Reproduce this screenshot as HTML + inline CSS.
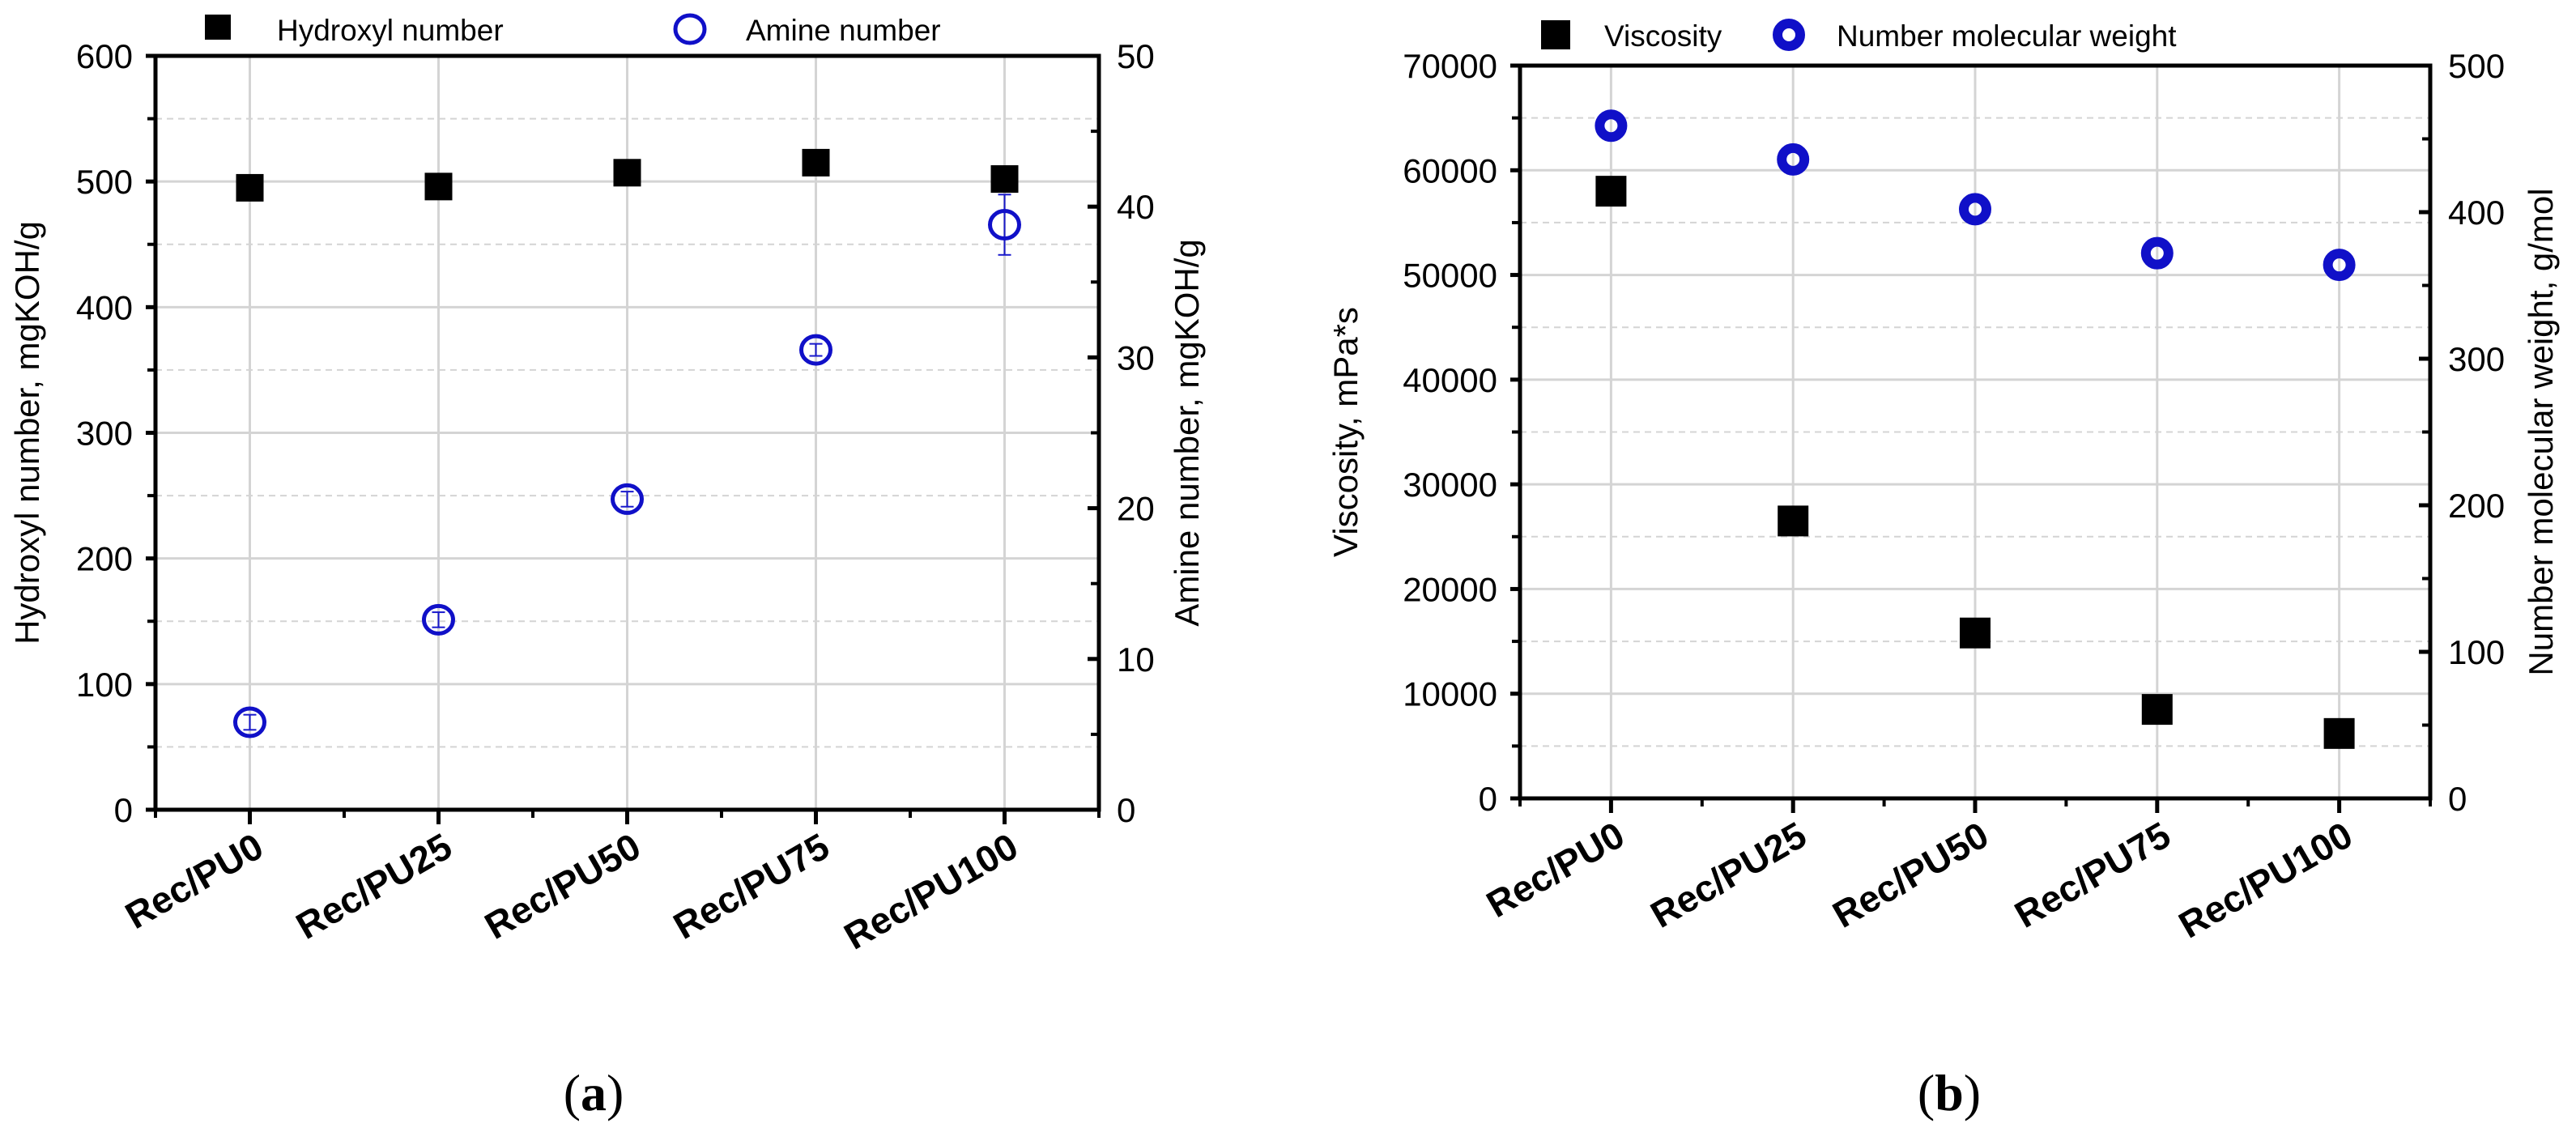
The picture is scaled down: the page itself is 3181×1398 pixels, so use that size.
<!DOCTYPE html>
<html><head><meta charset="utf-8"><style>
html,body{margin:0;padding:0;background:#fff}
svg{display:block}
text{font-family:"Liberation Sans",Arial,sans-serif}
text.cap{font-family:"Liberation Serif","Times New Roman",serif}
</style></head><body>
<svg id="svg" width="3181" height="1398" viewBox="0 0 3181 1398" xmlns="http://www.w3.org/2000/svg">
<g id="pa"></g>
<g id="pb"></g>
<text class="cap" x="733" y="1371" font-size="64" text-anchor="middle">(<tspan font-weight="bold">a</tspan>)</text>
<text class="cap" x="2407" y="1371" font-size="64" text-anchor="middle">(<tspan font-weight="bold">b</tspan>)</text>
</svg>
<script>
const categories = ["Rec/PU0","Rec/PU25","Rec/PU50","Rec/PU75","Rec/PU100"];
const hydroxyl = [495,496,507,515,502];
const amine = [5.8,12.6,20.6,30.5,38.8];
const amineErr = [0.5,0.5,0.5,0.4,2.0];
const leftTicksA = [0,100,200,300,400,500,600];
const rightTicksA = [0,10,20,30,40,50];
const viscosity = [58000,26500,15800,8500,6200];
const mn = [459,436,402,372,364];
const leftTicksB = [0,10000,20000,30000,40000,50000,60000,70000];
const rightTicksB = [0,100,200,300,400,500];

const NS="http://www.w3.org/2000/svg";
function mk(parent,tag,attrs,txt){const e=document.createElementNS(NS,tag);for(const k in attrs)e.setAttribute(k,attrs[k]);if(txt!==undefined)e.textContent=txt;parent.appendChild(e);return e;}

function panel(g,cfg){
  const L=cfg.left,R=cfg.right,T=cfg.top,B=cfg.bottom,n=categories.length,step=(R-L)/n;
  const xs=i=>L+step*(i+0.5);
  const yl=v=>B-(v/cfg.lmax)*(B-T);
  const yr=v=>B-(v/cfg.rmax)*(B-T);
  const lt=cfg.lticks, dl=lt[1]-lt[0];
  for(let i=0;i<lt.length-1;i++){
    const v=lt[i]+dl/2;
    const e=mk(g,'line',{x1:L,x2:R,y1:yl(v),y2:yl(v),stroke:'#d4d4d4','stroke-width':2,'stroke-dasharray':'8,6'});
    
    
  }
  lt.forEach(v=>{ if(v>lt[0]&&v<lt[lt.length-1]){
    const e=mk(g,'line',{x1:L,x2:R,y1:yl(v),y2:yl(v),stroke:'#d4d4d4','stroke-width':3});
    
    }});
  categories.forEach((c,i)=>{
    const e=mk(g,'line',{x1:xs(i),x2:xs(i),y1:T,y2:B,stroke:'#d4d4d4','stroke-width':3});
    
    
  });
  const fr=mk(g,'rect',{x:L,y:T,width:R-L,height:B-T,fill:'none',stroke:'#000','stroke-width':5});
  
  
  lt.forEach(v=>{
    mk(g,'line',{x1:L-12,x2:L,y1:yl(v),y2:yl(v),stroke:'#000','stroke-width':5});
    const t=mk(g,'text',{x:L-28,y:yl(v)+15,'font-size':42,'text-anchor':'end'},String(v));
    
    
  });
  for(let i=0;i<lt.length-1;i++){const v=lt[i]+dl/2;mk(g,'line',{x1:L-10,x2:L,y1:yl(v),y2:yl(v),stroke:'#000','stroke-width':4});}
  const rt=cfg.rticks, dr=rt[1]-rt[0];
  rt.forEach(v=>{
    mk(g,'line',{x1:R-14,x2:R,y1:yr(v),y2:yr(v),stroke:'#000','stroke-width':5});
    const t=mk(g,'text',{x:R+22,y:yr(v)+15,'font-size':42},String(v));
    
    
  });
  for(let i=0;i<rt.length-1;i++){const v=rt[i]+dr/2;mk(g,'line',{x1:R-10,x2:R,y1:yr(v),y2:yr(v),stroke:'#000','stroke-width':4});}
  for(let i=0;i<=n;i++){mk(g,'line',{x1:L+step*i,x2:L+step*i,y1:B,y2:B+10,stroke:'#000','stroke-width':4});}
  categories.forEach((c,i)=>{
    mk(g,'line',{x1:xs(i),x2:xs(i),y1:B,y2:B+18,stroke:'#000','stroke-width':5});
    const ax=xs(i)+20, ay=B+55;
    const t=mk(g,'text',{x:ax,y:ay,'font-size':46,'font-weight':'bold','text-anchor':'end',transform:`rotate(-30 ${ax} ${ay})`},c);
    
    
  });
  const tl=mk(g,'text',{x:cfg.ltx,y:(T+B)/2,'font-size':42,'text-anchor':'middle',transform:`rotate(-90 ${cfg.ltx} ${(T+B)/2})`},cfg.ltitle);
  
  
  const tr=mk(g,'text',{x:cfg.rtx,y:(T+B)/2,'font-size':42,'text-anchor':'middle',transform:`rotate(-90 ${cfg.rtx} ${(T+B)/2})`},cfg.rtitle);
  
  
  return {xs,yl,yr};
}

const ga=document.getElementById('pa');
const A=panel(ga,{left:192,right:1357,top:69,bottom:1000,lmax:600,rmax:50,lticks:leftTicksA,rticks:rightTicksA,ltx:48,rtx:1480,ltitle:'Hydroxyl number, mgKOH/g',rtitle:'Amine number, mgKOH/g'});
hydroxyl.forEach((v,i)=>{
  const r=mk(ga,'rect',{x:A.xs(i)-17,y:A.yl(v)-17,width:34,height:34,fill:'#000'});
  
  
});
amine.forEach((v,i)=>{
  const x=A.xs(i),e=amineErr[i];
  mk(ga,'line',{x1:x,x2:x,y1:A.yr(v-e),y2:A.yr(v+e),stroke:'#1a1acc','stroke-width':2});
  mk(ga,'line',{x1:x-8,x2:x+8,y1:A.yr(v-e),y2:A.yr(v-e),stroke:'#1a1acc','stroke-width':2});
  mk(ga,'line',{x1:x-8,x2:x+8,y1:A.yr(v+e),y2:A.yr(v+e),stroke:'#1a1acc','stroke-width':2});
  const c=mk(ga,'ellipse',{cx:x,cy:A.yr(v),rx:18,ry:17,fill:'none',stroke:'#1010c8','stroke-width':5});
  
  
});
let e;
e=mk(ga,'rect',{x:253,y:18,width:32,height:31,fill:'#000'});


e=mk(ga,'text',{x:342,y:50,'font-size':37},'Hydroxyl number');


e=mk(ga,'ellipse',{cx:852,cy:36,rx:18,ry:17,fill:'none',stroke:'#1010c8','stroke-width':5});


e=mk(ga,'text',{x:921,y:50,'font-size':37},'Amine number');



const gb=document.getElementById('pb');
const B=panel(gb,{left:1877,right:3001,top:81,bottom:986,lmax:70000,rmax:500,lticks:leftTicksB,rticks:rightTicksB,ltx:1676,rtx:3152,ltitle:'Viscosity, mPa*s',rtitle:'Number molecular weight, g/mol'});
viscosity.forEach((v,i)=>{
  const r=mk(gb,'rect',{x:B.xs(i)-19,y:B.yl(v)-19,width:38,height:38,fill:'#000'});
  
  
});
mn.forEach((v,i)=>{
  const c=mk(gb,'circle',{cx:B.xs(i),cy:B.yr(v),r:14,fill:'none',stroke:'#1010c8','stroke-width':12});
  
  
});
e=mk(gb,'rect',{x:1903,y:25,width:36,height:36,fill:'#000'});


e=mk(gb,'text',{x:1981,y:57,'font-size':37},'Viscosity');


e=mk(gb,'circle',{cx:2209,cy:43,r:14,fill:'none',stroke:'#1010c8','stroke-width':12});


e=mk(gb,'text',{x:2268,y:57,'font-size':37},'Number molecular weight');


</script>
</body></html>
